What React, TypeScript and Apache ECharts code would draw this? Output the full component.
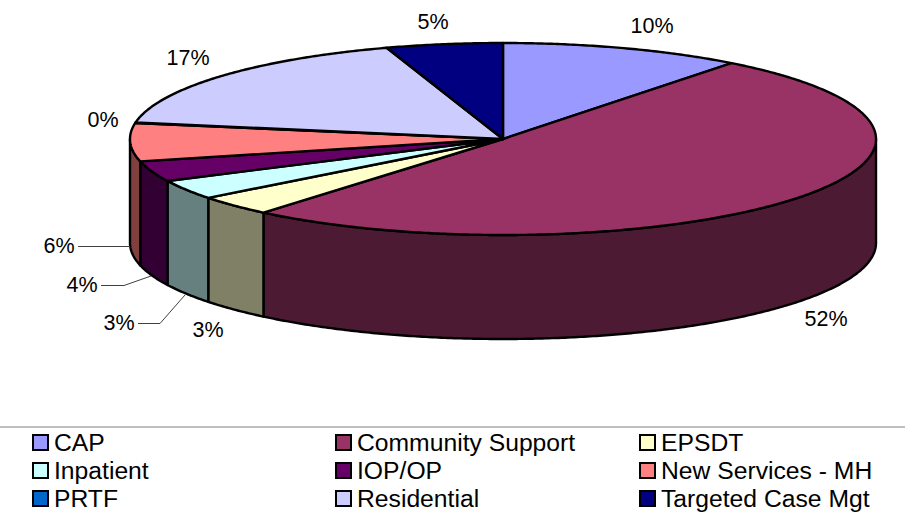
import React, { useEffect, useRef } from "react";
import * as echarts from "echarts";

const categories = ["CAP", "Community Support", "EPSDT", "Inpatient", "IOP/OP", "New Services - MH", "PRTF", "Residential", "Targeted Case Mgt"];
const shares = [10.5, 50.6, 3.4, 3.3, 3.45, 6.4, 0.1, 17.2, 5.05];
const sliceLabels = ["10%", "52%", "3%", "3%", "4%", "6%", "0%", "17%", "5%"];
const topColors = ["#9999FF", "#993366", "#FFFFCC", "#CCFFFF", "#660066", "#FF8080", "#0066CC", "#CCCCFF", "#000080"];
const sideColors = ["#4D4D80", "#4D1A33", "#808066", "#668080", "#330033", "#804040", "#003366", "#666680", "#000040"];

const legendColumns = [
  { left: 32, names: ["CAP", "Inpatient", "PRTF"] },
  { left: 335, names: ["Community Support", "IOP/OP", "Residential"] },
  { left: 639, names: ["EPSDT", "New Services - MH", "Targeted Case Mgt"] },
];

const PIE = { cx: 503, cy: 139, rx: 373, ry: 96, depth: 104 };
const FONT = "'Liberation Sans', Arial, sans-serif";
const labelPlaces: [number, number][] = [[652, 26], [826, 319], [208, 330], [119, 323], [82, 285], [59, 246], [103, 120], [188, 58], [433, 22]];
const leaders: [number, number][][] = [
  [[78, 246.5], [130, 246.5]],
  [[101, 285.5], [124, 285.5], [151, 276]],
  [[138, 323.5], [160, 323.5], [185, 295]],
];

const total = shares.reduce((a, b) => a + b, 0);
const edgePoint = (deg: number, drop = 0): [number, number] => {
  const t = (deg * Math.PI) / 180;
  return [PIE.cx + PIE.rx * Math.sin(t), PIE.cy - PIE.ry * Math.cos(t) + drop];
};
const arcPoints = (from: number, to: number, drop = 0) => {
  const pts: [number, number][] = [];
  const n = Math.max(1, Math.ceil(Math.abs(to - from) * 2));
  for (let i = 0; i <= n; i++) pts.push(edgePoint(from + ((to - from) * i) / n, drop));
  return pts;
};

function renderSlice(params: any, api: any) {
  const idx = params.seriesIndex as number;
  let before = 0;
  for (let i = 0; i < idx; i++) before += shares[i];
  const start = (before / total) * 360;
  const end = start + (api.value(0) / total) * 360;
  const children: any[] = [];
  const s = Math.max(start, 90);
  const e = Math.min(end, 270);
  if (e > s) {
    children.push({
      type: "polygon",
      shape: { points: [...arcPoints(s, e), ...arcPoints(e, s, PIE.depth)] },
      style: { fill: sideColors[idx], stroke: "#000", lineWidth: 2.4, lineJoin: "round" },
    });
  }
  children.push({
    type: "polygon",
    shape: { points: [[PIE.cx, PIE.cy], ...arcPoints(start, end)] },
    style: { fill: topColors[idx], stroke: "#000", lineWidth: 2.4, lineJoin: "round" },
  });
  return { type: "group", children };
}

export default function App() {
  const ref = useRef<HTMLDivElement>(null);
  useEffect(() => {
    const chart = echarts.init(ref.current!, null, { renderer: "svg" });
    chart.setOption({
      animation: false,
      backgroundColor: "#fff",
      legend: legendColumns.map((c) => ({
        orient: "vertical",
        left: c.left,
        top: 430,
        padding: 0,
        itemGap: 3,
        itemWidth: 15,
        itemHeight: 15,
        icon: "rect",
        selectedMode: false,
        data: c.names,
        itemStyle: { borderColor: "#000", borderWidth: 2 },
        textStyle: { fontFamily: FONT, fontSize: 24.7, color: "#000", padding: [2, 0, 0, 1], height: 23, lineHeight: 23 },
      })),
      series: categories.map((name, i) => ({
        type: "custom",
        name,
        coordinateSystem: "none",
        silent: true,
        clip: false,
        itemStyle: { color: topColors[i] },
        data: [[shares[i]]],
        renderItem: renderSlice,
      })),
      graphic: [
        { type: "line", silent: true, shape: { x1: 0, y1: 427, x2: 905, y2: 427 }, style: { stroke: "#808080", lineWidth: 1 } },
        ...leaders.map((points) => ({ type: "polyline", silent: true, z: 5, shape: { points }, style: { stroke: "#404040", lineWidth: 1, fill: null } })),
        ...sliceLabels.map((text, i) => ({
          type: "text",
          silent: true,
          z: 10,
          x: labelPlaces[i][0],
          y: labelPlaces[i][1],
          style: { text, fontFamily: FONT, fontSize: 21.5, fill: "#000", textAlign: "center", textVerticalAlign: "middle" },
        })),
      ],
    });
    return () => chart.dispose();
  }, []);
  return <div ref={ref} style={{ position: "absolute", left: 0, top: 0, width: 905, height: 512 }} />;
}
